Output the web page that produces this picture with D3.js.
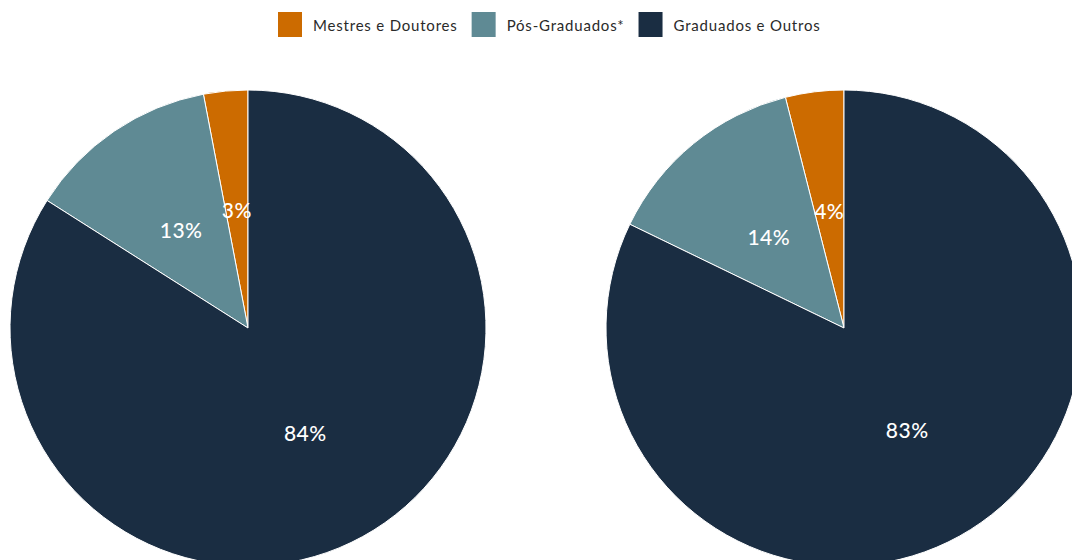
<!DOCTYPE html>
<html>
<head>
<meta charset="utf-8">
<script src="https://cdn.jsdelivr.net/npm/d3@7"></script>
<style>
  html, body { margin: 0; padding: 0; background: #fff; }
  svg { display: block; font-family: "Lato", "Open Sans", sans-serif; }
</style>
</head>
<body>
<svg id="chart" width="1072" height="560"></svg>
<script>
// Categories and their colours
const categories = ["Mestres e Doutores", "Pós-Graduados*", "Graduados e Outros"];
const colors = ["#cc6b00", "#5f8a94", "#1a2d42"];

// Percentages for each pie
const leftValues = [3, 13, 84];
const rightValues = [4, 14, 83];

const svg = d3.select("#chart");

const color = d3.scaleOrdinal().domain(categories).range(colors);

// Legend
const legend = svg.append("g").attr("class", "legend");
let lx = 278;
categories.forEach((c) => {
  const g = legend.append("g").attr("transform", `translate(${lx},12)`);
  g.append("rect").attr("width", 24).attr("height", 25).attr("fill", color(c));
  const t = g.append("text")
    .attr("x", 35).attr("y", 18.5)
    .attr("font-size", 15).attr("fill", "#2a2a2a")
    .attr("letter-spacing", 0.8)
    .text(c);
  const w = t.node().getComputedTextLength();
  lx += 35 + w + 14;
});

// Pies
const radius = 238;
const pie = d3.pie().sort((a, b) => d3.descending(a.value, b.value)).value(d => d.value);
const arc = d3.arc().innerRadius(0).outerRadius(radius);

function drawPie(cx, cy, values) {
  const data = categories.map((c, i) => ({ cat: c, value: values[i] }));
  const g = svg.append("g").attr("transform", `translate(${cx},${cy})`);
  const arcs = pie(data);
  g.selectAll("path").data(arcs).join("path")
    .attr("d", arc)
    .attr("fill", d => color(d.data.cat))
    .attr("stroke", "#fff")
    .attr("stroke-width", 1);
  g.selectAll("text").data(arcs).join("text")
    .attr("transform", d => `translate(${arc.centroid(d)})`)
    .attr("text-anchor", "middle")
    .attr("dy", "0.42em")
    .attr("font-size", 21)
    .attr("font-weight", 500)
    .attr("letter-spacing", 0.5)
    .attr("fill", "#fff")
    .text(d => d.data.value + "%");
}

drawPie(248, 328, leftValues);
drawPie(844, 328, rightValues);
</script>
</body>
</html>
